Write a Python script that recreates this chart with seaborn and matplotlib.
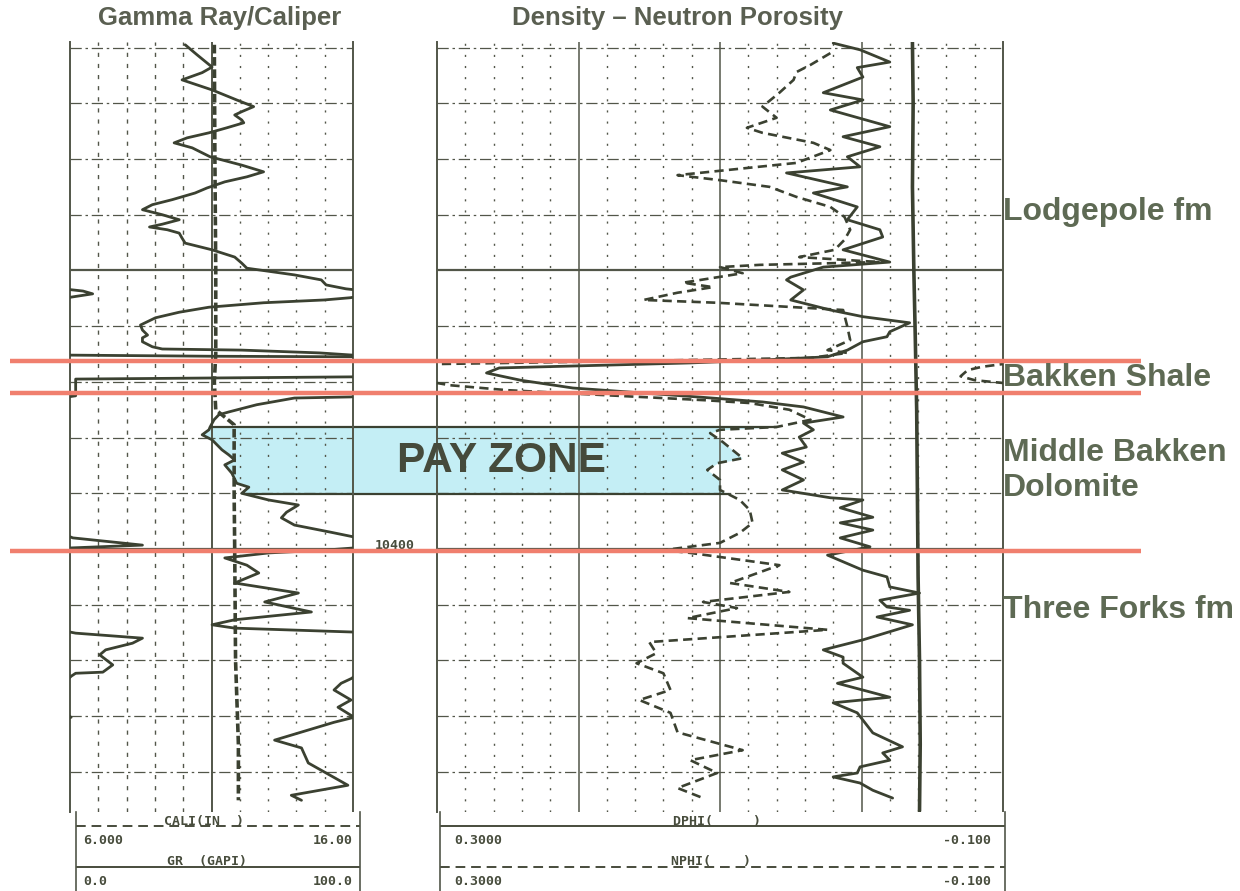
import numpy as np
import pandas as pd
import matplotlib
matplotlib.use("Agg")
import matplotlib.pyplot as plt
import seaborn as sns

sns.set_theme(style="white")
plt.rcParams['font.family'] = ['Liberation Sans', 'DejaVu Sans']

W, H = 1240, 891
CURVE = '#3b4131'
GRID = '#525649'
INK = '#474c3c'
TITLE = '#5a5f51'
LABEL = '#5e6a54'
RED = '#f07f6e'
CYAN = '#c4eef5'

# gamma ray (API) vs depth (ft); values over 100 wrap onto the backup scale
gr_depth = [10309.5, 10311.3, 10313.5, 10314.5, 10315.8, 10317.6, 10319.4, 10320.6, 10321.5, 10322.1,
            10323.0, 10323.5, 10324.4, 10325.3, 10326.2, 10327.1, 10328.0, 10329.6, 10331.1, 10332.3,
            10333.2, 10334.1, 10335.2, 10336.1, 10337.3, 10338.2, 10339.1, 10340.0, 10340.9, 10341.7,
            10342.2, 10342.7, 10343.3, 10344.2, 10345.1, 10346.3, 10347.6, 10348.7, 10349.6, 10350.8,
            10351.7, 10352.6, 10353.3, 10353.7, 10354.2, 10354.6, 10354.9, 10355.3, 10355.8, 10356.6,
            10357.5, 10358.5, 10359.8, 10360.7, 10361.6, 10362.1, 10362.8, 10363.7, 10364.1, 10364.3,
            10364.8, 10365.2, 10365.4, 10365.5, 10365.7, 10368.9, 10369.1, 10369.3, 10369.5, 10372.5,
            10372.7, 10372.9, 10374.1, 10375.4, 10375.9, 10376.8, 10378.1, 10378.6, 10379.5, 10380.4,
            10382.2, 10383.1, 10384.0, 10384.9, 10386.4, 10388.2, 10388.9, 10390.0, 10391.2, 10392.1,
            10393.4, 10394.4, 10395.7, 10397.0, 10397.8, 10398.0, 10399.3, 10399.8, 10400.2, 10400.7,
            10401.6, 10402.9, 10404.3, 10406.1, 10407.9, 10409.5, 10411.3, 10412.7, 10413.6, 10414.2,
            10414.9, 10415.1, 10416.0, 10416.9, 10418.1, 10419.0, 10420.8, 10422.1, 10422.3, 10422.8,
            10423.2, 10424.1, 10425.3, 10427.1, 10428.4, 10430.2, 10431.1, 10434.3, 10435.7, 10438.4,
            10442.4, 10444.2, 10445.1]
gr_api = [40.7, 44.9, 50.2, 46.7, 39.6, 50.2, 58.9, 64.9, 60.7, 58.2,
          60.7, 61.4, 55.4, 49.1, 41.4, 36.8, 43.2, 49.5, 60.7, 68.4,
          62.5, 54.7, 48.4, 44.2, 36.1, 29.1, 25.6, 32.6, 38.6, 32.6,
          28.1, 34.4, 38.6, 39.6, 40.7, 50.2, 58.2, 60.7, 62.5, 79.3,
          88.8, 90.5, 97.5, 104.6, 108.0, 103.0, 99.0, 89.8, 68.4, 49.1,
          38.6, 30.2, 24.9, 25.6, 27.4, 25.6, 25.6, 29.1, 32.6, 60.7,
          88.1, 100.0, 150.0, 200.0, 260.0, 260.0, 200.0, 150.0, 102.0, 102.0,
          99.3, 79.3, 66.0, 56.1, 52.6, 50.9, 49.5, 49.1, 46.7, 50.2,
          53.7, 56.1, 58.2, 54.7, 57.2, 58.9, 63.2, 60.7, 70.2, 80.7,
          76.5, 74.7, 79.3, 92.3, 100.0, 101.0, 125.6, 100.5, 90.0, 70.2,
          54.7, 62.5, 66.7, 58.2, 80.7, 68.8, 85.3, 58.2, 50.2, 58.2,
          100.0, 102.0, 125.6, 122.1, 112.6, 110.5, 115.1, 111.6, 102.0, 100.5,
          99.6, 95.8, 93.3, 99.3, 94.7, 100.4, 93.3, 72.3, 81.8, 84.2,
          98.2, 78.2, 81.8]

# caliper (in)
cali_depth = [10309.5, 10330.0, 10350.0, 10365.0, 10370.0, 10375.0, 10377.7, 10390.0, 10400.0, 10420.0, 10435.0, 10445.1]
cali_in = [11.10, 11.12, 11.15, 11.15, 11.10, 11.15, 11.80, 11.80, 11.82, 11.85, 11.95, 11.95]

# density porosity (v/v)
dphi_depth = [10309.2, 10310.4, 10312.6, 10313.6, 10315.3, 10318.1, 10319.4, 10321.2, 10324.2, 10326.0,
              10327.8, 10329.6, 10331.4, 10332.5, 10335.0, 10336.1, 10338.6, 10340.9, 10342.7, 10344.0,
              10346.3, 10348.5, 10349.4, 10351.2, 10351.7, 10353.5, 10355.3, 10357.1, 10358.3, 10359.4,
              10361.0, 10361.9, 10362.8, 10364.3, 10365.5, 10366.1, 10366.6, 10367.5, 10368.4, 10369.7,
              10371.1, 10372.7, 10373.6, 10374.5, 10376.3, 10377.4, 10378.6, 10379.9, 10381.7, 10382.8,
              10384.4, 10385.8, 10387.6, 10389.4, 10390.8, 10391.2, 10392.6, 10394.3, 10395.3, 10396.6,
              10398.0, 10399.6, 10401.1, 10403.8, 10405.0, 10406.8, 10407.9, 10409.2, 10410.4, 10411.0,
              10412.2, 10413.6, 10416.3, 10418.1, 10419.4, 10420.5, 10423.0, 10424.1, 10426.6, 10427.6,
              10429.4, 10433.0, 10435.5, 10436.6, 10437.9, 10439.1, 10440.2, 10440.9, 10442.0, 10443.3,
              10444.7]
dphi = [0.020, 0.001, -0.020, 0.003, -0.001, 0.027, -0.001, 0.022, -0.020, 0.013,
        -0.013, 0.010, 0.001, 0.053, 0.010, 0.034, 0.003, 0.010, -0.013, -0.015,
        0.013, -0.020, 0.027, 0.050, 0.053, 0.041, 0.050, 0.022, -0.001, -0.034,
        -0.020, -0.018, -0.001, 0.010, 0.024, 0.072, 0.121, 0.256, 0.265, 0.241,
        0.204, 0.116, 0.070, 0.041, 0.013, 0.041, 0.034, 0.044, 0.039, 0.056,
        0.041, 0.056, 0.041, 0.056, 0.022, -0.001, 0.015, -0.008, 0.015, -0.008,
        0.015, -0.006, 0.024, -0.001, -0.018, -0.020, -0.041, -0.013, -0.018, -0.034,
        -0.011, -0.036, -0.001, 0.027, 0.013, 0.013, -0.001, 0.017, -0.020, 0.020,
        0.003, -0.008, -0.029, -0.015, -0.020, 0.001, 0.003, 0.020, 0.001, -0.008,
        -0.022]

# neutron porosity (v/v); values over 0.30 wrap onto the backup scale
nphi_depth = [10311.0, 10313.1, 10314.4, 10315.8, 10318.1, 10320.6, 10322.6, 10324.4, 10325.3, 10327.1,
              10328.4, 10330.7, 10332.9, 10333.8, 10335.0, 10336.8, 10338.6, 10340.4, 10342.7, 10344.5,
              10346.3, 10347.6, 10348.5, 10349.0, 10349.4, 10350.5, 10352.2, 10353.0, 10354.0, 10355.3,
              10355.8, 10357.1, 10360.1, 10362.5, 10364.3, 10364.8, 10365.7, 10366.2, 10366.8, 10367.3,
              10367.9, 10369.0, 10369.7, 10370.2, 10370.6, 10371.5, 10372.4, 10373.3, 10373.8, 10375.0,
              10376.8, 10378.1, 10378.6, 10379.2, 10380.8, 10383.7, 10384.6, 10385.8, 10387.6, 10389.4,
              10391.2, 10393.0, 10395.3, 10397.1, 10398.9, 10400.2, 10400.7, 10402.9, 10406.1, 10407.7,
              10409.5, 10410.6, 10412.4, 10414.5, 10416.7, 10418.7, 10420.5, 10422.3, 10425.3, 10427.1,
              10429.4, 10432.9, 10436.1, 10437.9, 10440.2, 10442.9, 10444.7]
nphi = [0.022, 0.036, 0.046, 0.048, 0.058, 0.070, 0.060, 0.081, 0.070, 0.034,
        0.022, 0.046, 0.130, 0.100, 0.065, 0.046, 0.022, 0.012, 0.008, 0.012,
        0.019, 0.044, -0.013, 0.072, 0.100, 0.084, 0.126, 0.105, 0.130, 0.154,
        0.102, 0.013, 0.010, 0.008, 0.024, 0.010, 0.036, 0.150, 0.300, 0.315,
        0.325, 0.330, 0.320, 0.300, 0.291, 0.250, 0.180, 0.110, 0.079, 0.051,
        0.036, 0.060, 0.100, 0.107, 0.098, 0.084, 0.102, 0.109, 0.100, 0.100,
        0.086, 0.079, 0.077, 0.086, 0.100, 0.140, 0.121, 0.058, 0.093, 0.051,
        0.112, 0.088, 0.123, 0.024, 0.150, 0.145, 0.159, 0.140, 0.135, 0.157,
        0.135, 0.130, 0.084, 0.121, 0.102, 0.130, 0.112]

# heavy near-vertical trace in the porosity track
aux_depth = [10309.0, 10320.0, 10335.0, 10350.0, 10362.0, 10375.0, 10390.0, 10405.0, 10420.0, 10435.0, 10447.0]
aux_val = [-0.036, -0.0365, -0.036, -0.037, -0.038, -0.039, -0.0395, -0.040, -0.041, -0.0415, -0.041]

tops_depth = [10366.2, 10372.0, 10400.4]
pay_top, pay_base = 10378.1, 10390.2
formations = ["Lodgepole fm", "Bakken Shale", "Middle Bakken\nDolomite", "Three Forks fm"]
formation_depth = [10339.5, 10369.3, 10385.9, 10411.0]

top_depth, bot_depth = 10309.0, 10447.2


def box(x0, y0, x1, y1):
    return [x0 / W, 1 - y1 / H, (x1 - x0) / W, (y1 - y0) / H]


def curve(ax, x, y, **kw):
    sns.lineplot(x=np.asarray(x), y=np.asarray(y), orient='y', sort=False, estimator=None,
                 ax=ax, color=CURVE, legend=False, **kw)


def track(ax, xlim):
    ax.set_xlim(*xlim)
    ax.set_ylim(bot_depth, top_depth)
    ax.set_xticks([])
    ax.set_yticks([])
    ax.set_xlabel('')
    ax.set_ylabel('')
    for s in ['top', 'bottom']:
        ax.spines[s].set_visible(False)
    for s in ['left', 'right']:
        ax.spines[s].set_color(GRID)
        ax.spines[s].set_linewidth(1.4)
    for d in range(10310, 10450, 10):
        if d % 50 == 0:
            ax.axhline(d, color=GRID, lw=1.6, zorder=1)
        else:
            ax.axhline(d, color=GRID, lw=0.9, ls=(0, (9, 3, 2, 3)), zorder=1)


fig = plt.figure(figsize=(W / 100, H / 100), dpi=100)
back = fig.add_axes(box(0, 42, W, 812), zorder=0)
ax_gr = fig.add_axes(box(70, 42, 353, 812), zorder=1)
ax_den = fig.add_axes(box(437, 42, 1003, 812), zorder=1)
front = fig.add_axes(box(0, 42, W, 812), zorder=3)
foot_l = fig.add_axes(box(76, 812, 360, 891), zorder=1)
foot_r = fig.add_axes(box(440, 812, 1005, 891), zorder=1)

for ov in (back, front):
    ov.set_xlim(0, W)
    ov.set_ylim(bot_depth, top_depth)
    ov.axis('off')

# ---- gamma ray / caliper track
gr = np.array(gr_api)
curve(ax_gr, gr, gr_depth, lw=2.0, zorder=3)
curve(ax_gr, gr - 100, gr_depth, lw=2.0, zorder=3)
track(ax_gr, (0, 100))
for g in range(10, 100, 10):
    if g == 50:
        ax_gr.axvline(g, color=GRID, lw=1.4, zorder=1)
    elif g < 50:
        ax_gr.axvline(g, color=GRID, lw=1.0, ls=(0, (3, 5)), zorder=1)
    else:
        ax_gr.axvline(g, color=GRID, lw=1.0, ls=(0, (1.5, 6.5)), zorder=1)

ax_cal = ax_gr.twiny()
curve(ax_cal, cali_in, cali_depth, lw=2.6, ls=(0, (2.4, 1.0)), zorder=3)
ax_cal.set_xlim(6, 16)
ax_cal.set_xticks([])
ax_cal.set_xlabel('')
ax_cal.set_ylabel('')
for s in ax_cal.spines.values():
    s.set_visible(False)

# ---- density / neutron track
nph = np.array(nphi)
curve(ax_den, dphi, dphi_depth, lw=2.0, zorder=3)
curve(ax_den, nph, nphi_depth, lw=1.9, ls=(0, (3.5, 2.0)), zorder=3)
curve(ax_den, nph - 0.40, nphi_depth, lw=1.9, ls=(0, (3.5, 2.0)), zorder=3)
curve(ax_den, aux_val, aux_depth, lw=2.6, zorder=3)
track(ax_den, (0.30, -0.10))
for k in range(-4, 15):
    v = k * 0.02
    if k % 5 == 0:
        ax_den.axvline(v, color=GRID, lw=1.1, zorder=1)
    else:
        ax_den.axvline(v, color=GRID, lw=1.0, ls=(0, (1.5, 6.5)), zorder=1)

# ---- pay zone shading between GR and NPHI
dz = np.linspace(pay_top, pay_base, 80)
gr_edge = np.interp(dz, gr_depth, gr_api)
nphi_edge = np.interp(dz, nphi_depth, nphi)
ax_gr.fill_betweenx(dz, gr_edge, 100, color=CYAN, lw=0, zorder=0.5)
ax_den.fill_betweenx(dz, 0.30, nphi_edge, color=CYAN, lw=0, zorder=0.5)
back.fill_between([352, 438], pay_top, pay_base, color=CYAN, lw=0)
for d, i in ((pay_top, 0), (pay_base, -1)):
    ax_gr.hlines(d, gr_edge[i], 100, color=CURVE, lw=1.6, zorder=2)
    ax_den.hlines(d, 0.30, nphi_edge[i], color=CURVE, lw=1.6, zorder=2)
back.hlines([pay_top, pay_base], 352, 438, color=CURVE, lw=1.6)

# ---- tops, labels
front.hlines(tops_depth, 10, 1141, color=RED, lw=3.2)
for name, d in zip(formations, formation_depth):
    front.text(1003, d, name, ha='left', va='center', fontsize=23, fontweight='bold',
               color=LABEL, linespacing=1.2)
front.text(501, (pay_top + pay_base) / 2, 'PAY ZONE', ha='center', va='center',
           fontsize=30.5, fontweight='bold', color='#454a3b')

mono = dict(family='DejaVu Sans Mono', fontweight='bold', fontsize=9.5, color=INK)
ax_gr.text(1.148, 10399.4, '10400', transform=ax_gr.get_yaxis_transform(),
           ha='center', va='center', clip_on=False, **mono)

fig.text(220 / W, 1 - 18 / H, 'Gamma Ray/Caliper', ha='center', va='center',
         fontsize=18.5, fontweight='bold', color=TITLE)
fig.text(677 / W, 1 - 18 / H, 'Density \u2013 Neutron Porosity', ha='center', va='center',
         fontsize=18.5, fontweight='bold', color=TITLE)


# ---- scale headers
def footer(ax, rows):
    ax.set_xlim(0, 1)
    ax.set_ylim(0, 1)
    ax.set_xticks([])
    ax.set_yticks([])
    for s in ['top', 'bottom']:
        ax.spines[s].set_visible(False)
    for s in ['left', 'right']:
        ax.spines[s].set_color(GRID)
        ax.spines[s].set_linewidth(1.2)
    for name, lo, hi, ls, yl, yv, xn in rows:
        ax.axhline(yl, color=INK, lw=1.4, ls=ls)
        ax.text(xn, yl + 0.02, name, ha='center', va='baseline', **mono)
        ax.text(0.025, yv, lo, ha='left', va='center', **mono)
        ax.text(0.975, yv, hi, ha='right', va='center', **mono)


footer(foot_l, [("CALI(IN  )", "6.000", "16.00", (0, (5, 3)), 0.82, 0.633, 0.45),
                ("GR  (GAPI)", "0.0", "100.0", '-', 0.31, 0.114, 0.46)])
footer(foot_r, [("DPHI(     )", "0.3000", "-0.100", '-', 0.82, 0.633, 0.49),
                ("NPHI(    )", "0.3000", "-0.100", (0, (5, 3)), 0.31, 0.114, 0.48)])

fig.savefig('out.png', dpi=100)
